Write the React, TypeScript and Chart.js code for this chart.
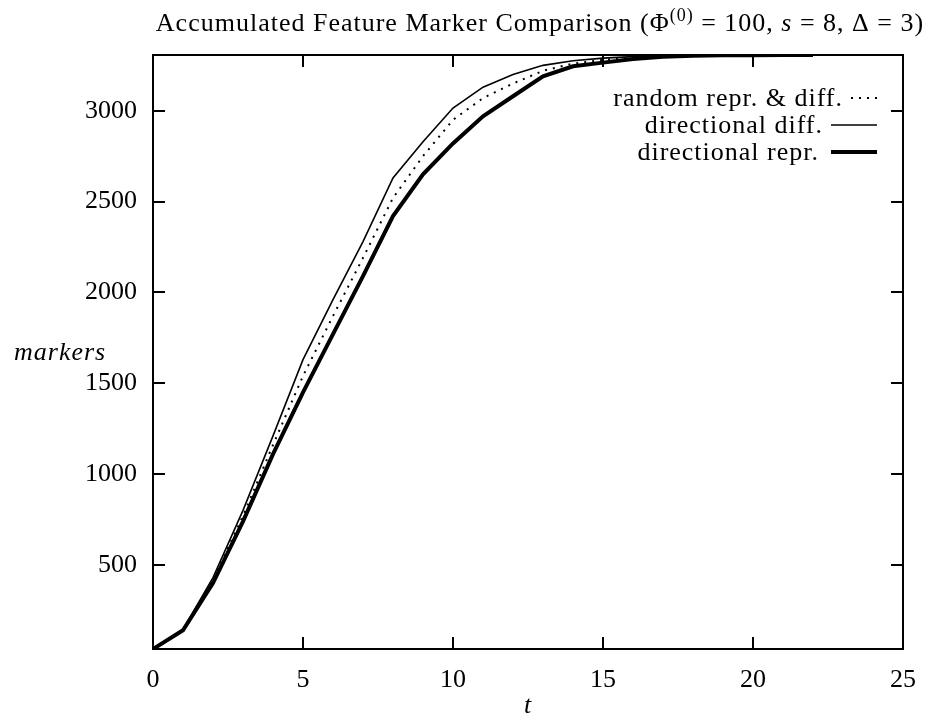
import React, { useEffect, useRef } from "react";
import { Chart, registerables } from "chart.js";

Chart.register(...registerables);

const tValues = [0, 1, 2, 3, 4, 5, 6, 7, 8, 9, 10, 11, 12, 13, 14, 15, 16, 17, 18, 19, 20, 21, 22, 23];
const randomReprDiff = [37, 142, 415, 770, 1160, 1540, 1870, 2190, 2520, 2750, 2950, 3070, 3150, 3220, 3260, 3280, 3292, 3300, 3303, 3305, 3306, 3307, 3307, 3307];
const directionalDiff = [37, 145, 430, 800, 1210, 1630, 1960, 2280, 2630, 2830, 3015, 3130, 3200, 3250, 3275, 3290, 3298, 3303, 3305, 3306, 3307, 3307, 3307];
const directionalRepr = [37, 140, 400, 740, 1110, 1450, 1770, 2090, 2420, 2650, 2820, 2970, 3080, 3190, 3245, 3265, 3285, 3298, 3303, 3305, 3306, 3307, 3307];
const xTicks = [0, 5, 10, 15, 20, 25];
const yTicks = [500, 1000, 1500, 2000, 2500, 3000];
const xMin = 0;
const xMax = 25;
const yMin = 37;
const yMax = 3307;

const FONT = "'Liberation Serif', 'DejaVu Serif', serif";
const FS = 26;

const toPoints = (ys: number[]) => ys.map((y, i) => ({ x: tValues[i], y }));

const gnuplotPlugin = {
  id: "gnuplotDecor",
  afterDraw(chart: any) {
    const ctx = chart.ctx as CanvasRenderingContext2D;
    const { left, right, top, bottom } = chart.chartArea;
    const xs = chart.scales.x;
    const ys = chart.scales.y;
    ctx.save();
    ctx.strokeStyle = "#000";
    ctx.fillStyle = "#000";
    ctx.lineWidth = 2;
    ctx.lineCap = "butt";
    ctx.setLineDash([]);
    ctx.strokeRect(left, top, right - left, bottom - top);
    const tl = 12;
    ctx.beginPath();
    xTicks.forEach((v) => {
      const px = Math.round(xs.getPixelForValue(v));
      ctx.moveTo(px, bottom);
      ctx.lineTo(px, bottom - tl);
      ctx.moveTo(px, top);
      ctx.lineTo(px, top + tl);
    });
    yTicks.forEach((v) => {
      const py = Math.round(ys.getPixelForValue(v));
      ctx.moveTo(left, py);
      ctx.lineTo(left + tl, py);
      ctx.moveTo(right, py);
      ctx.lineTo(right - tl, py);
    });
    ctx.stroke();

    (ctx as any).letterSpacing = "1px";
    // Title with mixed styles
    const parts: { text: string; font: string; dy: number }[] = [
      { text: "Accumulated Feature Marker Comparison (Φ", font: `${FS}px ${FONT}`, dy: 0 },
      { text: "(0)", font: `${Math.round(FS * 0.7)}px ${FONT}`, dy: -10 },
      { text: " = 100, ", font: `${FS}px ${FONT}`, dy: 0 },
      { text: "s", font: `italic ${FS}px ${FONT}`, dy: 0 },
      { text: " = 8, Δ = 3)", font: `${FS}px ${FONT}`, dy: 0 },
    ];
    let total = 0;
    parts.forEach((p) => {
      ctx.font = p.font;
      total += ctx.measureText(p.text).width;
    });
    let cx = 540 - total / 2;
    ctx.textBaseline = "alphabetic";
    ctx.textAlign = "left";
    parts.forEach((p) => {
      ctx.font = p.font;
      ctx.fillText(p.text, cx, 31 + p.dy);
      cx += ctx.measureText(p.text).width;
    });

    // Axis titles
    ctx.font = `italic ${FS}px ${FONT}`;
    ctx.textBaseline = "middle";
    ctx.textAlign = "left";
    ctx.fillText("markers", 14, 353);
    ctx.textAlign = "center";
    ctx.fillText("t", 528, 706);

    // Legend (gnuplot style: right-aligned text, sample to the right)
    const rows = [98, 125, 152];
    const textRight = [843, 823, 819];
    const sampleStart = [851, 831, 831];
    const sampleEnd = 877;
    chart.data.datasets.forEach((ds: any, i: number) => {
      const y = rows[i];
      ctx.font = `${FS}px ${FONT}`;
      ctx.textAlign = "right";
      ctx.textBaseline = "middle";
      ctx.fillText(ds.label, textRight[i], y + 1);
      ctx.beginPath();
      ctx.lineWidth = ds.borderWidth;
      ctx.setLineDash(ds.borderDash || []);
      ctx.moveTo(sampleStart[i], y);
      ctx.lineTo(sampleEnd, y);
      ctx.stroke();
    });
    (ctx as any).letterSpacing = "0px";
    ctx.restore();
  },
};

export default function App() {
  const ref = useRef<HTMLCanvasElement | null>(null);
  useEffect(() => {
    document.body.style.margin = "0";
    const canvas = ref.current!;
    const chart = new Chart(canvas, {
      type: "line",
      data: {
        datasets: [
          {
            label: "random repr. & diff.",
            data: toPoints(randomReprDiff),
            borderColor: "#000",
            borderWidth: 2,
            borderDash: [2, 6],
            pointRadius: 0,
            tension: 0,
            fill: false,
          },
          {
            label: "directional diff.",
            data: toPoints(directionalDiff),
            borderColor: "#000",
            borderWidth: 1.6,
            pointRadius: 0,
            tension: 0,
            fill: false,
          },
          {
            label: "directional repr.",
            data: toPoints(directionalRepr),
            borderColor: "#000",
            borderWidth: 4,
            pointRadius: 0,
            tension: 0,
            fill: false,
          },
        ],
      },
      plugins: [gnuplotPlugin],
      options: {
        animation: false,
        responsive: false,
        devicePixelRatio: 1,
        layout: { padding: { top: 55, right: 31, left: 0, bottom: 0 } },
        plugins: {
          legend: { display: false },
          title: { display: false },
          tooltip: { enabled: false },
        },
        scales: {
          x: {
            type: "linear",
            min: xMin,
            max: xMax,
            afterBuildTicks: (s: any) => {
              s.ticks = xTicks.map((v) => ({ value: v }));
            },
            afterFit: (s: any) => {
              s.height = 74;
            },
            grid: { display: false, drawTicks: false },
            border: { display: false },
            ticks: {
              color: "#000",
              font: { family: FONT, size: FS },
              padding: 16,
              maxRotation: 0,
              autoSkip: false,
              callback: (v: any) => String(v),
            },
          },
          y: {
            type: "linear",
            min: yMin,
            max: yMax,
            afterBuildTicks: (s: any) => {
              s.ticks = yTicks.map((v) => ({ value: v }));
            },
            afterFit: (s: any) => {
              s.width = 153;
            },
            grid: { display: false, drawTicks: false },
            border: { display: false },
            ticks: {
              color: "#000",
              font: { family: FONT, size: FS },
              padding: 16,
              autoSkip: false,
              callback: (v: any) => String(v),
            },
          },
        },
      },
    } as any);
    return () => chart.destroy();
  }, []);
  return (
    <div style={{ position: "absolute", left: 0, top: 0, width: 934, height: 723, background: "#fff" }}>
      <canvas ref={ref} width={934} height={723} style={{ width: 934, height: 723 }} />
    </div>
  );
}
